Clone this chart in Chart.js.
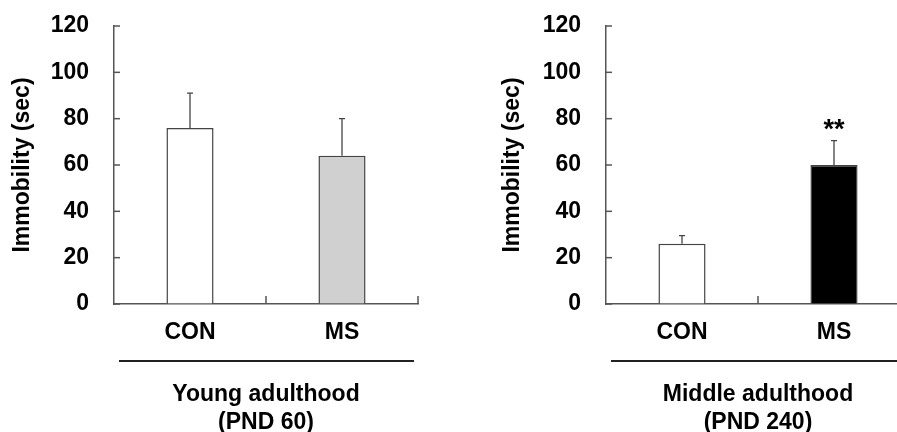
<!DOCTYPE html>
<html><head><meta charset="utf-8">
<script src="https://cdn.jsdelivr.net/npm/chart.js@4.4.0/dist/chart.umd.min.js"></script>
<style>
html,body{margin:0;padding:0;background:#fff;overflow:hidden;width:897px;height:432px;position:relative;}
#c1{position:absolute;left:0;top:0;}
#c2{position:absolute;left:450px;top:0;}
</style></head><body>
<canvas id="c1" width="450" height="440"></canvas>
<canvas id="c2" width="470" height="440"></canvas>
<script>
// ---- data ----
const categories = ['CON', 'MS'];
const yTicks = [0, 20, 40, 60, 80, 100, 120];
const youngMeans = [76, 64];
const youngSEM = [15, 16];
const middleMeans = [26, 60];
const middleSEM = [3.5, 10.5];
const middleSig = ['', '**'];
const youngSig = ['', ''];
const yTitle = 'Immobility (sec)';
const youngTitle = ['Young adulthood', '(PND 60)'];
const middleTitle = ['Middle adulthood', '(PND 240)'];
const youngColors = ['#ffffff', '#d0d0d0'];
const middleColors = ['#ffffff', '#000000'];

const FONT = '"Liberation Sans", Arial, sans-serif';
const bold23 = {family: FONT, size: 23, weight: 'bold'};

const decor = {
  id: 'decor',
  afterDraw(chart, args, opts) {
    const ctx = chart.ctx, x = chart.scales.x, y = chart.scales.y, ca = chart.chartArea;
    ctx.save();
    const meta = chart.getDatasetMeta(0);
    const ds = chart.data.datasets[0];
    // error bars
    ctx.strokeStyle = '#444'; ctx.lineWidth = 1.3;
    meta.data.forEach((bar, i) => {
      const v = ds.data[i], e = opts.errors[i];
      const yTop = y.getPixelForValue(v + e), yBar = y.getPixelForValue(v);
      ctx.beginPath();
      ctx.moveTo(bar.x, yBar); ctx.lineTo(bar.x, yTop);
      ctx.moveTo(bar.x - 3, yTop); ctx.lineTo(bar.x + 3, yTop);
      ctx.stroke();
      if (opts.sig && opts.sig[i]) {
        ctx.fillStyle = '#000';
        ctx.font = 'bold 27px ' + FONT;
        ctx.textAlign = 'center'; ctx.textBaseline = 'alphabetic';
        ctx.fillText(opts.sig[i], bar.x, yTop - 3);
      }
    });
    // inward y ticks
    ctx.strokeStyle = '#555'; ctx.lineWidth = 1.5;
    y.ticks.forEach(t => {
      const py = y.getPixelForValue(t.value);
      ctx.beginPath(); ctx.moveTo(ca.left, py); ctx.lineTo(ca.left + 6, py); ctx.stroke();
    });
    // upward x ticks at category boundaries
    for (let i = 1; i <= chart.data.labels.length; i++) {
      const px = x.getPixelForValue(i - 0.5);
      ctx.beginPath(); ctx.moveTo(px, ca.bottom); ctx.lineTo(px, ca.bottom - 8); ctx.stroke();
    }
    // group line
    ctx.strokeStyle = '#222'; ctx.lineWidth = 2;
    ctx.beginPath();
    ctx.moveTo(x.left + 5, ca.bottom + 57); ctx.lineTo(x.right - 4, ca.bottom + 57);
    ctx.stroke();
    ctx.restore();
  }
};

function makeChart(id, means, errs, sig, colors, title, yWidth, yTitlePad, padRight) {
  return new Chart(document.getElementById(id), {
    type: 'bar',
    data: {
      labels: categories,
      datasets: [{
        data: means,
        backgroundColor: colors,
        borderColor: '#444',
        borderWidth: 1.5,
        categoryPercentage: 1,
        barPercentage: 0.31
      }]
    },
    options: {
      responsive: false,
      animation: false,
      devicePixelRatio: 1,
      layout: {padding: {left: 0, top: 26, right: padRight, bottom: 0}},
      plugins: {
        legend: {display: false},
        tooltip: {enabled: false},
        decor: {errors: errs, sig: sig}
      },
      scales: {
        x: {
          type: 'category',
          offset: true,
          grid: {display: true, drawOnChartArea: false, drawTicks: false, offset: true},
          border: {display: true, color: '#555', width: 1.5},
          ticks: {font: bold23, color: '#000', padding: 15},
          title: {display: true, text: title, font: bold23, color: '#000', padding: {top: 0, bottom: 4}},
          afterFit: s => { s.height = 136; }
        },
        y: {
          min: 0, max: 120,
          afterBuildTicks: s => { s.ticks = yTicks.map(v => ({value: v})); },
          grid: {display: true, drawOnChartArea: false, drawTicks: false},
          border: {display: true, color: '#555', width: 1.5},
          ticks: {font: bold23, color: '#000', padding: 25},
          title: {display: true, text: yTitle, font: bold23, color: '#000', padding: {top: yTitlePad, bottom: 0}},
          afterFit: s => { s.width = yWidth; s.paddingTop = 0; s.paddingBottom = 0; }
        }
      }
    },
    plugins: [decor]
  });
}

makeChart('c1', youngMeans, youngSEM, youngSig, youngColors, youngTitle, 114, 9, 32);
makeChart('c2', middleMeans, middleSEM, middleSig, middleColors, middleTitle, 156, 49, 10);
</script>
</body></html>
